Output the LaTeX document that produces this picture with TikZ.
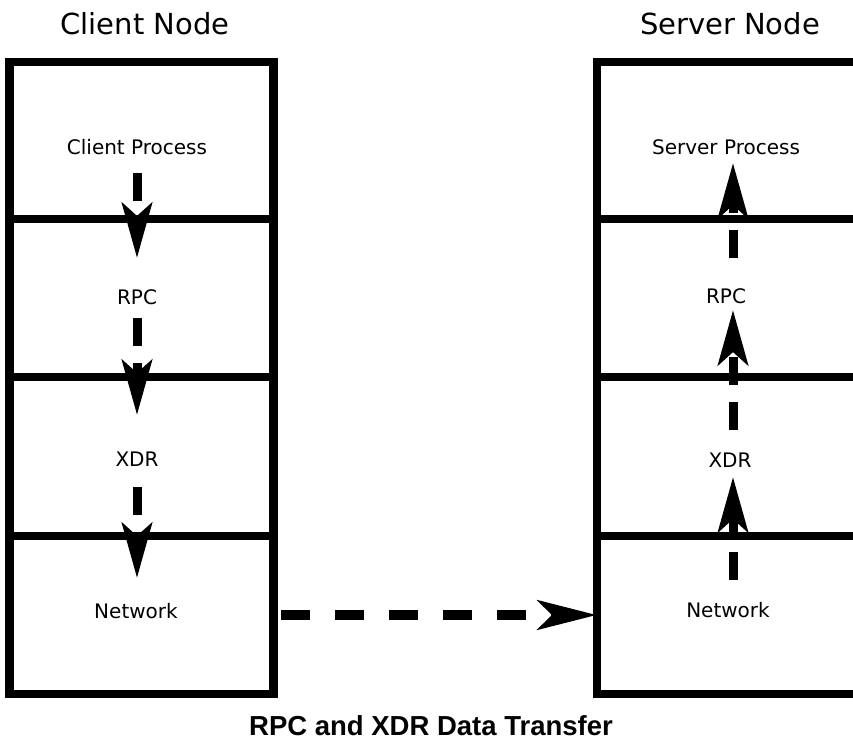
\documentclass[tikz,border=0pt]{standalone}
\usepackage{fontspec}
\setmainfont{DejaVu Sans}
\newfontfamily\capfont{Liberation Sans}
\usetikzlibrary{arrows.meta}
\tikzset{
  layer/.style={draw=black, line width=8.5pt, rectangle, inner sep=0pt, outer sep=0pt},
  lbl/.style={anchor=base, inner sep=0pt, font=\fontsize{20}{24}\selectfont},
  ttl/.style={anchor=base, inner sep=0pt, font=\fontsize{29}{34}\selectfont},
  flow/.style={line width=9pt, dash pattern=on 28pt off 17pt,
    -{Stealth[length=55pt, width=30pt, inset=13pt]}},
  hflow/.style={line width=10pt, dash pattern=on 29pt off 25pt,
    -{Stealth[length=59pt, width=29pt, inset=14pt]}}
}
\begin{document}
\begin{tikzpicture}[x=1pt, y=-1pt]
\useasboundingbox (0,0) rectangle (853,749);
\clip (0,0) rectangle (853,749);
% client stack
\node[layer, minimum width=264pt, minimum height=157pt] (c1) at (141.5,140.5) {};
\node[layer, minimum width=264pt, minimum height=158pt] (c2) at (141.5,298) {};
\node[layer, minimum width=264pt, minimum height=159pt] (c3) at (141.5,456.5) {};
\node[layer, minimum width=264pt, minimum height=158pt] (c4) at (141.5,615) {};
% server stack
\node[layer, minimum width=283pt, minimum height=157pt] (s1) at (738.5,140.5) {};
\node[layer, minimum width=283pt, minimum height=158pt] (s2) at (738.5,298) {};
\node[layer, minimum width=283pt, minimum height=159pt] (s3) at (738.5,456.5) {};
\node[layer, minimum width=283pt, minimum height=158pt] (s4) at (738.5,615) {};
% titles
\node[ttl] (ct) at (145,35) {Client Node};
\node[ttl] (st) at (730,35) {Server Node};
% labels
\node[lbl] (cp) at (137,154) {Client Process};
\node[lbl] (cr) at (137,304) {RPC};
\node[lbl] (cx) at (137,466) {XDR};
\node[lbl] (cn) at (136,618) {Network};
\node[lbl] (sp) at (726,154) {Server Process};
\node[lbl] (sr) at (726,303) {RPC};
\node[lbl] (sx) at (730,467) {XDR};
\node[lbl] (sn) at (728,617) {Network};
% caption
\node[anchor=base, inner sep=0pt, font=\capfont\bfseries\fontsize{27.5}{32}\selectfont] (cap) at (431,735) {RPC and XDR Data Transfer};
% arrow end points
\coordinate (ca1) at (137,173); \coordinate (cb1) at (137,258);
\coordinate (ca2) at (137,318); \coordinate (cb2) at (137,415);
\coordinate (ca3) at (137,487); \coordinate (cb3) at (137,578);
\coordinate (sa1) at (733,258); \coordinate (sb1) at (733,163);
\coordinate (sa2) at (733,430); \coordinate (sb2) at (733,310);
\coordinate (sa3) at (733,580); \coordinate (sb3) at (733,477);
\coordinate (ha) at (281,615);
% arrows
\draw[flow] (ca1) -- (cb1);
\draw[flow] (ca2) -- (cb2);
\draw[flow] (ca3) -- (cb3);
\draw[flow] (sa1) -- (sb1);
\draw[flow] (sa2) -- (sb2);
\draw[flow] (sa3) -- (sb3);
\draw[hflow] (ha) -- (s4.west);
\end{tikzpicture}
\end{document}
